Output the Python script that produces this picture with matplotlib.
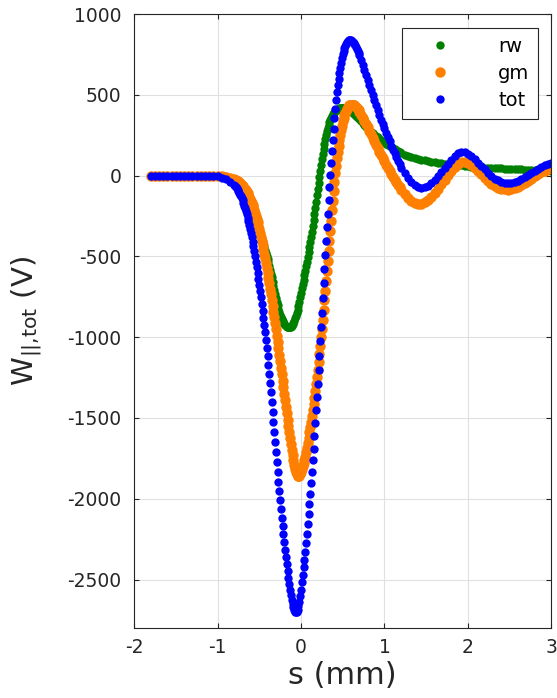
import numpy as np
import matplotlib
matplotlib.use('Agg')
import matplotlib.pyplot as plt

plt.rcParams['font.family'] = ['DejaVu Sans']
plt.rcParams['mathtext.default'] = 'regular'
plt.rcParams['axes.unicode_minus'] = False

# sample grid along the bunch (mm): coarse in the flat head, fine in the steep part
s = np.round(np.concatenate([
    np.arange(-1.80, -0.849, 0.05),
    np.arange(-0.80, 0.7001, 0.01),
    np.arange(0.72, 1.2001, 0.02),
    np.arange(1.24, 3.0001, 0.04),
]), 2)

# resistive wall wake (V)
rw = [
    # -1.80 .. -0.85 (step 0.05)
    0, 0, 0, 0, 0, 0, 0, 0, 0, 0,
    0, 0, 0, 0, 0, -1, -3, -7, -13, -22,
    # -0.80 .. 0.70 (step 0.01)
    -35, -39, -43, -48, -53, -58, -64, -70, -77, -84,
    -92, -101, -110, -120, -130, -140, -151, -163, -175, -187,
    -200, -213, -227, -241, -255, -270, -285, -300, -315, -330,
    -345, -361, -377, -393, -409, -425, -442, -460, -478, -496,
    -515, -537, -559, -582, -606, -630, -656, -682, -708, -734,
    -760, -782, -803, -824, -843, -860, -874, -887, -899, -909,
    -918, -925, -931, -935, -938, -940, -940, -938, -934, -928,
    -920, -910, -898, -884, -868, -850, -829, -806, -781, -754,
    -726, -698, -670, -644, -617, -590, -562, -533, -504, -475,
    -445, -413, -380, -346, -311, -275, -237, -199, -161, -123,
    -85, -47, -10, 27, 64, 100, 134, 166, 196, 224,
    250, 273, 294, 313, 330, 345, 358, 369, 379, 387,
    395, 400, 405, 409, 412, 415, 416, 417, 418, 418,
    418, 417, 416, 414, 412, 410, 408, 406, 403, 401,
    398, 394, 390, 385, 380, 375, 370, 365, 360, 355,
    350,
    # 0.72 .. 1.20 (step 0.02)
    338, 326, 314, 303, 292, 282, 272, 263, 254, 245,
    237, 228, 220, 213, 205, 197, 190, 182, 175, 168,
    162, 156, 150, 144, 138,
    # 1.24 .. 3.00 (step 0.04)
    130, 122, 115, 109, 103, 98, 94, 90, 86, 82,
    79, 76, 74, 72, 70, 67, 65, 63, 60, 58,
    56, 55, 53, 52, 50, 49, 48, 46, 45, 44,
    43, 42, 41, 40, 39, 38, 37, 36, 36, 35,
    34, 33, 33, 32, 31,
]

# geometric wake (V)
gm = [
    # -1.80 .. -0.85
    0, 0, 0, 0, 0, 0, 0, 0, 0, 0,
    0, 0, 0, 0, 0, -1, -2, -5, -9, -15,
    # -0.80 .. 0.70
    -22, -25, -28, -31, -34, -38, -42, -47, -51, -56,
    -62, -69, -76, -83, -91, -100, -110, -120, -131, -143,
    -155, -168, -182, -197, -213, -230, -248, -268, -288, -309,
    -330, -353, -377, -402, -428, -455, -483, -511, -540, -570,
    -600, -633, -667, -701, -735, -770, -806, -842, -878, -914,
    -950, -990, -1030, -1070, -1110, -1150, -1190, -1230, -1270, -1310,
    -1350, -1390, -1430, -1470, -1510, -1550, -1588, -1625, -1661, -1696,
    -1730, -1762, -1790, -1814, -1834, -1848, -1857, -1860, -1857, -1849,
    -1836, -1819, -1800, -1780, -1761, -1740, -1712, -1683, -1653, -1622,
    -1590, -1556, -1522, -1487, -1451, -1415, -1374, -1333, -1291, -1248,
    -1205, -1155, -1104, -1053, -1002, -950, -891, -832, -773, -714,
    -655, -592, -529, -466, -403, -340, -278, -216, -156, -97,
    -40, 13, 62, 106, 147, 185, 218, 250, 280, 308,
    335, 355, 372, 388, 402, 415, 424, 431, 436, 439,
    440, 440, 439, 437, 435, 432, 426, 419, 412, 404,
    395,
    # 0.72 .. 1.20
    377, 358, 338, 318, 298, 277, 256, 235, 213, 192,
    170, 149, 127, 107, 88, 68, 49, 30, 11, -8,
    -25, -42, -58, -73, -88,
    # 1.24 .. 3.00
    -115, -138, -155, -167, -174, -175, -166, -152, -133, -110,
    -83, -55, -26, 2, 28, 52, 72, 84, 85, 78,
    64, 47, 28, 8, -12, -32, -50, -64, -75, -82,
    -86, -87, -85, -79, -70, -59, -47, -33, -19, -5,
    8, 20, 30, 38, 45,
]

rw = np.array(rw, dtype=float)
gm = np.array(gm, dtype=float)
tot = rw + gm

fig = plt.figure(figsize=(5.57, 6.98), dpi=100)
ax = fig.add_axes([0.2406, 0.1003, 0.7495, 0.8796])

ax.plot(s, rw, 'o', color='#008000', ms=6, mew=0, label='rw')
ax.plot(s, gm, 'o', color='#ff7f00', ms=7.5, mew=0, label='gm')
ax.plot(s, tot, 'o', color='#0000ff', ms=6, mew=0, label='tot')

ax.set_xlim(-2, 3)
ax.set_ylim(-2800, 1000)
ax.set_xticks(range(-2, 4))
ax.set_yticks(range(-2500, 1001, 500))

ax.grid(True, color='#e0e0e0', lw=0.8)
ax.set_axisbelow(True)
for sp in ax.spines.values():
    sp.set_color('#262626')
    sp.set_linewidth(0.8)
ax.tick_params(direction='in', length=3.5, width=0.8, colors='#262626',
               labelsize=13.5, top=True, right=True)
ax.tick_params(axis='x', pad=7)
ax.tick_params(axis='y', pad=9)

ax.set_xlabel('s (mm)', fontsize=22, color='#262626')
ax.set_ylabel('W$_{||{,}tot}$ (V)', fontsize=21, color='#262626')
ax.xaxis.set_label_coords(0.5, -0.053)
ax.yaxis.set_label_coords(-0.215, 0.5)

leg = ax.legend(loc='upper right', bbox_to_anchor=(0.968, 0.977), fontsize=14,
                fancybox=False, framealpha=1, edgecolor='#262626',
                handlelength=3.0, handletextpad=1.5, labelspacing=0.42,
                borderpad=0.45, borderaxespad=0, numpoints=1)
leg.get_frame().set_linewidth(0.8)

fig.savefig('out.png', dpi=100)
